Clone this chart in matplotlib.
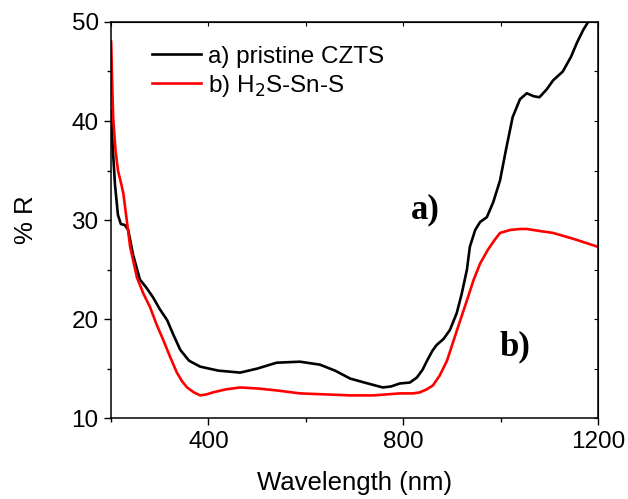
import matplotlib.pyplot as plt
from matplotlib.ticker import MultipleLocator

plt.rcParams['font.family'] = ['Liberation Sans', 'DejaVu Sans']

# curve a) pristine CZTS
wl_a = [200, 203, 208, 214, 220, 228, 235, 245, 259, 272, 286, 300, 315, 328, 342, 360,
        383, 420, 465, 500, 540, 588, 629, 660, 691, 720, 758, 775, 793, 814, 828, 840,
        849, 860, 869, 883, 896, 910, 920, 931, 937, 948, 958, 972, 985, 999, 1012, 1025,
        1040, 1054, 1068, 1080, 1095, 1108, 1128, 1145, 1157, 1170, 1180, 1190]
r_a = [41.0, 37.5, 33.5, 30.5, 29.6, 29.5, 29.0, 26.5, 24.0, 23.2, 22.2, 21.0, 19.9, 18.4, 16.9, 15.8,
       15.2, 14.8, 14.6, 15.0, 15.6, 15.7, 15.4, 14.8, 14.0, 13.6, 13.1, 13.2, 13.5, 13.6, 14.1, 14.9,
       15.8, 16.8, 17.4, 18.0, 18.9, 20.6, 22.5, 25.0, 27.3, 29.0, 29.8, 30.3, 31.8, 34.0, 37.3, 40.4,
       42.2, 42.8, 42.5, 42.4, 43.2, 44.1, 45.0, 46.5, 47.9, 49.2, 50.0, 51.0]

# curve b) H2S-Sn-S
wl_b = [200, 202, 204, 209, 214, 220, 225, 232, 239, 253, 266, 280, 293, 307, 321, 335, 346,
        356, 370, 383, 396, 409, 435, 465, 500, 540, 588, 640, 691, 740, 793, 820, 834, 848,
        861, 875, 890, 910, 931, 945, 958, 974, 988, 999, 1020, 1040, 1054, 1080, 1108, 1150, 1200]
r_b = [48.0, 44.0, 40.4, 37.0, 35.0, 33.8, 32.7, 30.0, 27.3, 24.2, 22.6, 21.2, 19.5, 17.9, 16.2, 14.6, 13.7,
       13.1, 12.6, 12.3, 12.4, 12.6, 12.9, 13.1, 13.0, 12.8, 12.5, 12.4, 12.3, 12.3, 12.5, 12.5, 12.6, 12.9,
       13.3, 14.3, 15.8, 18.8, 21.9, 24.0, 25.6, 27.0, 28.0, 28.7, 29.0, 29.1, 29.1, 28.9, 28.7, 28.1, 27.3]

fig = plt.figure(figsize=(6.28, 4.99), dpi=100)
ax = fig.add_axes([0.177, 0.162, 0.775, 0.794])

ax.plot(wl_a, r_a, color='black', lw=1.9, label='a) pristine CZTS')
ax.plot(wl_b, r_b, color='red', lw=1.9, label='b) H$_2$S-Sn-S')

ax.set_xlim(200, 1200)
ax.set_ylim(10, 50)
ax.xaxis.set_major_locator(MultipleLocator(400))
ax.xaxis.set_minor_locator(MultipleLocator(200))
ax.yaxis.set_major_locator(MultipleLocator(10))
ax.yaxis.set_minor_locator(MultipleLocator(5))
ax.tick_params(which='both', direction='out', labelsize=17.5, width=1)
ax.tick_params(which='major', length=5, pad=4)
ax.tick_params(which='minor', length=3)
for s in ax.spines.values():
    s.set_linewidth(1.1)

# inward ticks on top and right
sx = ax.secondary_xaxis('top')
sx.xaxis.set_major_locator(MultipleLocator(200))
sx.tick_params(direction='in', length=3, labeltop=False)
sy = ax.secondary_yaxis('right')
sy.yaxis.set_major_locator(MultipleLocator(5))
sy.tick_params(direction='in', length=3, labelright=False)

ax.set_xlabel('Wavelength (nm)', fontsize=18.5, labelpad=13)
ax.set_ylabel('% R', fontsize=18.5, labelpad=24)

ax.legend(loc='upper left', bbox_to_anchor=(0.04, 0.995), frameon=False, fontsize=17.5,
          handlelength=2.0, handletextpad=0.3, labelspacing=0.2)

ax.text(0.645, 0.525, 'a)', transform=ax.transAxes, fontsize=25, fontweight='bold',
        family='Liberation Serif', ha='center', va='center')
ax.text(0.83, 0.18, 'b)', transform=ax.transAxes, fontsize=25, fontweight='bold',
        family='Liberation Serif', ha='center', va='center')

fig.savefig('out.png', dpi=100)
